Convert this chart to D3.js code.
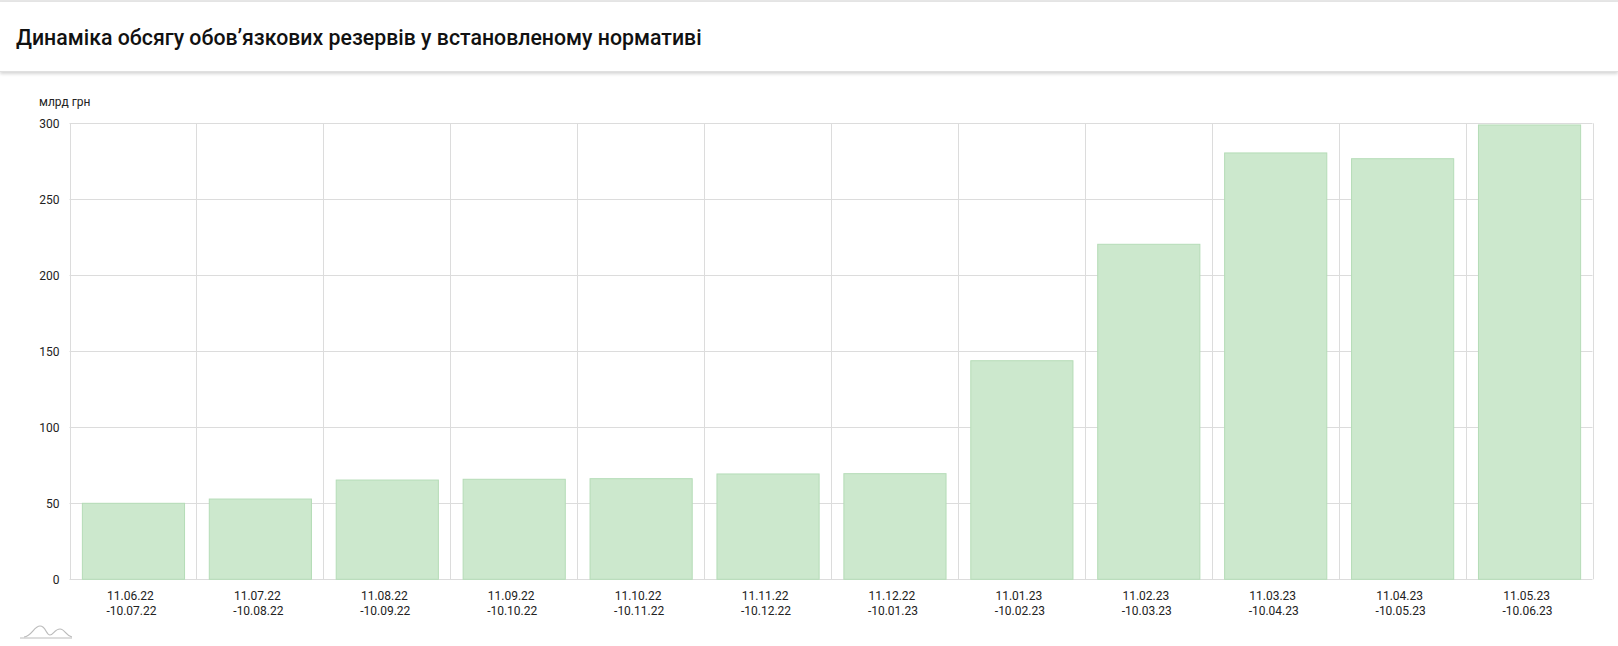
<!DOCTYPE html>
<html>
<head>
<meta charset="utf-8">
<script src="https://cdn.jsdelivr.net/npm/d3@7/dist/d3.min.js"></script>
<style>
html,body{margin:0;padding:0;background:#fff;}
body{width:1618px;height:646px;overflow:hidden;font-family:Roboto,"Noto Sans",sans-serif;}
#topline{position:absolute;left:0;top:0;width:1618px;height:2px;background:#e6e6e6;}
#header{position:absolute;left:0;top:2px;width:1618px;height:69px;background:#fff;box-shadow:0 2px 3px rgba(0,0,0,0.16);border-bottom:1px solid #e0e0e0;}
#header h1{margin:0;position:absolute;left:16px;top:23px;font-size:21.3px;font-weight:500;color:#111;font-family:Roboto,sans-serif;letter-spacing:0;}
svg{position:absolute;left:0;top:0;}
</style>
</head>
<body>
<div id="topline"></div>
<div id="header"><h1>Динаміка обсягу обовʼязкових резервів у встановленому нормативі</h1></div>
<svg id="chart" width="1618" height="646"></svg>
<script>
const categoriesTop = ["11.06.22","11.07.22","11.08.22","11.09.22","11.10.22","11.11.22","11.12.22","11.01.23","11.02.23","11.03.23","11.04.23","11.05.23"];
const categoriesBottom = ["-10.07.22","-10.08.22","-10.09.22","-10.10.22","-10.11.22","-10.12.22","-10.01.23","-10.02.23","-10.03.23","-10.04.23","-10.05.23","-10.06.23"];
const values = [50.0, 52.8, 65.3, 65.8, 66.2, 69.3, 69.5, 143.8, 220.4, 280.5, 276.7, 298.9];
const yTicks = [0, 50, 100, 150, 200, 250, 300];
const unitLabel = "млрд грн";

(function(){
const svg = d3.select("#chart");
const pLeft = 69.5, pRight = 1592.5, pTop = 123.3, pBottom = 579.3;

const x = d3.scaleBand().domain(d3.range(values.length)).range([pLeft, pRight])
  .paddingInner(0.195).paddingOuter(0.0975);
const y = d3.scaleLinear().domain([0, 300]).range([pBottom, pTop]);
const step = x.step();

const g = svg.append("g");

// horizontal grid
g.selectAll("line.hg").data(yTicks).enter().append("line")
  .attr("x1", pLeft).attr("x2", pRight)
  .attr("y1", d => Math.round(y(d)) + 0.5).attr("y2", d => Math.round(y(d)) + 0.5)
  .attr("stroke", "#dcdcdc").attr("stroke-width", 1);

// vertical grid
g.selectAll("line.vg").data(d3.range(values.length + 1)).enter().append("line")
  .attr("x1", i => Math.round(pLeft + i * step) + 0.5).attr("x2", i => Math.round(pLeft + i * step) + 0.5)
  .attr("y1", pTop).attr("y2", pBottom)
  .attr("stroke", "#dcdcdc").attr("stroke-width", 1);

// bars
g.selectAll("rect.bar").data(values).enter().append("rect")
  .attr("x", (d, i) => x(i) + 0.5).attr("width", x.bandwidth())
  .attr("y", d => y(d)).attr("height", d => y(0) - y(d))
  .attr("fill", "#cce8cd").attr("stroke", "#b5dcb7").attr("stroke-width", 1);

// y axis labels
const yAxis = d3.axisLeft(y).tickValues(yTicks).tickSize(0).tickPadding(0);
const ya = svg.append("g").attr("transform", `translate(${pLeft - 10},0)`).call(yAxis);
ya.select(".domain").remove();
ya.selectAll("text").attr("font-size", "12px").attr("fill", "#222").attr("font-family", "Roboto, sans-serif");

// unit label
svg.append("text").attr("x", 39).attr("y", 106).text(unitLabel)
  .attr("font-size", "12px").attr("fill", "#222").attr("font-family", "Roboto, sans-serif");

// x labels
const xa = svg.append("g");
values.forEach((v, i) => {
  const cx = x(i) + x.bandwidth() / 2;
  const t = xa.append("text").attr("text-anchor", "middle").attr("font-size", "12px")
    .attr("fill", "#222").attr("font-family", "Roboto, sans-serif");
  t.append("tspan").attr("x", cx - 2.5).attr("y", 600).text(categoriesTop[i]);
  t.append("tspan").attr("x", cx - 1.5).attr("y", 615).text(categoriesBottom[i]);
});

// amCharts-like logo
const logo = svg.append("g").attr("transform", "translate(20,626)").attr("fill", "none").attr("stroke", "#bbb").attr("stroke-width", 1.2);
logo.append("path").attr("d", "M0,12 L52,12");
logo.append("path").attr("d", "M4,11 C12,10 14,0 20,0 C26,0 26,9 30,9 C33,9 35,3 40,3 C45,3 46,10 52,11");
})();
</script>
</body>
</html>
